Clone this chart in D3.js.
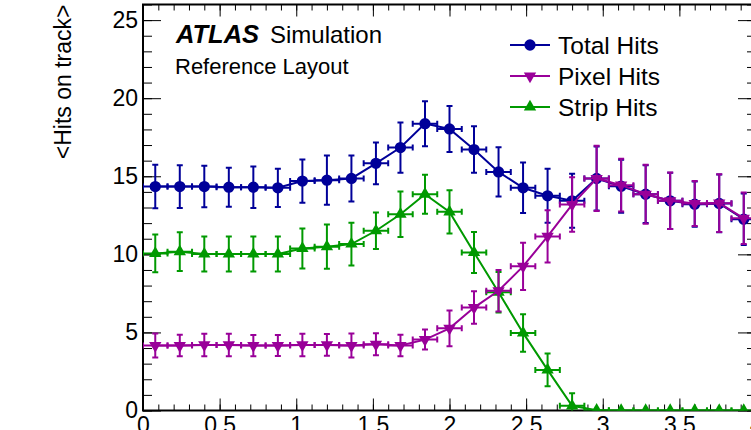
<!DOCTYPE html>
<html lang="en">
<head>
  <meta charset="UTF-8">
  <title>Hits on track</title>
  <script src="https://d3js.org/d3.v7.min.js"></script>
  <style>
    body { margin: 0; background: #fff; }
    text { font-family: "Liberation Sans", Arial, Helvetica, sans-serif; fill: #000; }
  </style>
</head>
<body>
  <div id="root"></div>
  <script>
    // bin centres (bin width 0.16)
    const binCenters = [0.08, 0.24, 0.40, 0.56, 0.72, 0.88, 1.04, 1.20, 1.36, 1.52, 1.68, 1.84, 2.00,
      2.16, 2.32, 2.48, 2.64, 2.80, 2.96, 3.12, 3.28, 3.44, 3.60, 3.76, 3.92]
    const binHalfWidth = 0.08

    const totalHits = [14.34, 14.34, 14.34, 14.30, 14.30, 14.26, 14.69, 14.75, 14.86, 15.83, 16.84, 18.37, 18.03,
      16.71, 15.28, 14.26, 13.75, 13.43, 14.86, 14.36, 13.85, 13.43, 13.21, 13.26, 12.25]
    const totalErr = [1.39, 1.37, 1.33, 1.25, 1.33, 1.22, 1.39, 1.58, 1.47, 1.34, 1.61, 1.44, 1.47,
      1.49, 1.58, 1.62, 1.73, 1.73, 2.05, 1.69, 1.85, 1.80, 1.45, 1.85, 1.65]

    const pixelHits = [4.16, 4.16, 4.20, 4.20, 4.16, 4.16, 4.20, 4.20, 4.16, 4.24, 4.16, 4.54, 5.26,
      6.59, 7.67, 9.23, 11.15, 13.19, 14.86, 14.43, 13.85, 13.43, 13.26, 13.28, 12.31]
    const pixelErr = [0.77, 0.69, 0.72, 0.72, 0.68, 0.67, 0.72, 0.70, 0.77, 0.70, 0.69, 0.64, 1.14,
      1.04, 1.33, 1.51, 1.68, 1.74, 2.09, 1.69, 1.89, 1.81, 1.44, 1.85, 1.65]

    const stripHits = [10.06, 10.17, 10.02, 10.02, 10.02, 10.02, 10.38, 10.49, 10.66, 11.51, 12.57, 13.85, 12.72,
      10.12, 7.57, 4.97, 2.60, 0.30, 0.02, 0, 0, 0, 0, 0, 0]
    const stripErr = [1.21, 1.24, 1.12, 1.12, 1.12, 1.12, 1.28, 1.42, 1.37, 1.17, 1.46, 1.25, 1.39,
      1.31, 1.30, 1.20, 1.05, 0.80, 0, 0, 0, 0, 0, 0, 0]

    const xTickValues = [0, 0.5, 1, 1.5, 2, 2.5, 3, 3.5, 4]
    const xTickLabels = ['0', '0.5', '1', '1.5', '2', '2.5', '3', '3.5', '4']
    const yTickValues = [0, 5, 10, 15, 20, 25]
    const yTickLabels = ['0', '5', '10', '15', '20', '25']

    const series = [
      { name: 'Total Hits', values: totalHits, errors: totalErr, color: '#000099', marker: 'circle' },
      { name: 'Pixel Hits', values: pixelHits, errors: pixelErr, color: '#990099', marker: 'down' },
      { name: 'Strip Hits', values: stripHits, errors: stripErr, color: '#009900', marker: 'up' }
    ]
    // drawing order: pixel ends up on top
    const drawOrder = [0, 2, 1]

    const W = 751, H = 430
    const frame = { left: 143, right: 756, top: 4.5, bottom: 410.5 }

    const x = d3.scaleLinear().domain([0, 4]).range([frame.left, frame.right])
    const y = d3.scaleLinear().domain([0, 26]).range([frame.bottom, frame.top])

    const svg = d3.select('#root')
      .append('svg')
      .attr('width', W)
      .attr('height', H)

    svg.append('defs').append('clipPath').attr('id', 'plotclip')
      .append('rect')
      .attr('x', frame.left).attr('y', frame.top)
      .attr('width', frame.right - frame.left).attr('height', frame.bottom - frame.top)

    // ---- axes (ROOT style: ticks inside, on all four sides)
    const xMinor = d3.range(0, 4.001, 0.1).map(v => +v.toFixed(2))
    const yMinor = d3.range(0, 26.001, 1)

    const axisStyle = g => {
      g.select('.domain').remove()
      g.selectAll('.tick line').attr('stroke', '#000').attr('stroke-width', 1)
    }

    svg.append('g').attr('transform', `translate(0,${frame.bottom})`)
      .call(d3.axisBottom(x).tickValues(xMinor).tickSize(-6).tickFormat(''))
      .call(axisStyle)
    svg.append('g').attr('transform', `translate(0,${frame.bottom})`)
      .call(d3.axisBottom(x).tickValues(xTickValues).tickSize(-12).tickPadding(6)
        .tickFormat((d, i) => xTickLabels[i]))
      .call(axisStyle)
      .call(g => g.selectAll('text').attr('font-size', 23).attr('dy', '0.72em'))

    svg.append('g').attr('transform', `translate(0,${frame.top})`)
      .call(d3.axisTop(x).tickValues(xMinor).tickSize(-6).tickFormat(''))
      .call(axisStyle)
    svg.append('g').attr('transform', `translate(0,${frame.top})`)
      .call(d3.axisTop(x).tickValues(xTickValues).tickSize(-12).tickFormat(''))
      .call(axisStyle)

    svg.append('g').attr('transform', `translate(${frame.left},0)`)
      .call(d3.axisLeft(y).tickValues(yMinor).tickSize(-9).tickFormat(''))
      .call(axisStyle)
    svg.append('g').attr('transform', `translate(${frame.left},0)`)
      .call(d3.axisLeft(y).tickValues(yTickValues).tickSize(-18).tickPadding(5)
        .tickFormat((d, i) => yTickLabels[i]))
      .call(axisStyle)
      .call(g => g.selectAll('text').attr('font-size', 23).attr('x', -5))

    svg.append('g').attr('transform', `translate(${frame.right},0)`)
      .call(d3.axisRight(y).tickValues(yMinor).tickSize(-9).tickFormat(''))
      .call(axisStyle)
    svg.append('g').attr('transform', `translate(${frame.right},0)`)
      .call(d3.axisRight(y).tickValues(yTickValues).tickSize(-18).tickFormat(''))
      .call(axisStyle)

    svg.append('rect')
      .attr('x', frame.left).attr('y', frame.top)
      .attr('width', frame.right - frame.left).attr('height', frame.bottom - frame.top)
      .attr('fill', 'none')
      .attr('stroke', '#000')
      .attr('stroke-width', 2)

    // y title
    svg.append('text')
      .attr('transform', `translate(71,${frame.top}) rotate(-90)`)
      .attr('text-anchor', 'end')
      .attr('font-size', 23)
      .text('<Hits on track>')

    // ---- data
    const markerPath = m => {
      if (m === 'circle') return d3.symbol(d3.symbolCircle, 100)()
      return d3.symbol(d3.symbolTriangle, 66)()
    }
    const markerRot = m => (m === 'down' ? 'rotate(180)' : '')

    const plot = svg.append('g').attr('clip-path', 'url(#plotclip)')
    const cap = 3

    drawOrder.forEach(si => {
      const s = series[si]
      const pts = binCenters.map((c, i) => ({ c, v: s.values[i], e: s.errors[i] }))
      const g = plot.append('g')
        .attr('stroke', s.color)
        .attr('fill', s.color)

      g.append('path')
        .datum(pts)
        .attr('fill', 'none')
        .attr('stroke-width', 2)
        .attr('d', d3.line().x(d => x(d.c)).y(d => y(d.v)))

      const eb = g.selectAll('g.err').data(pts).join('g').attr('class', 'err')
        .attr('stroke-width', 2)
        .attr('fill', 'none')
      // horizontal (bin width) bars
      eb.append('path')
        .attr('d', d => {
          const x0 = x(d.c - binHalfWidth), x1 = x(d.c + binHalfWidth), yy = y(d.v)
          return `M${x0},${yy}H${x1}M${x0},${yy - cap}V${yy + cap}M${x1},${yy - cap}V${yy + cap}`
        })
      // vertical error bars
      eb.filter(d => d.e > 0).append('path')
        .attr('d', d => {
          const xx = x(d.c), y0 = y(d.v - d.e), y1 = y(d.v + d.e)
          return `M${xx},${y0}V${y1}M${xx - cap},${y0}H${xx + cap}M${xx - cap},${y1}H${xx + cap}`
        })

      g.selectAll('path.mk').data(pts).join('path')
        .attr('class', 'mk')
        .attr('stroke', 'none')
        .attr('transform', d => `translate(${x(d.c)},${y(d.v)}) ${markerRot(s.marker)}`)
        .attr('d', markerPath(s.marker))
    })

    // ---- labels
    svg.append('text').attr('x', 176).attr('y', 43).attr('font-size', 25.5)
      .attr('font-weight', 'bold').attr('font-style', 'italic').text('ATLAS')
    svg.append('text').attr('x', 270).attr('y', 43).attr('font-size', 24).text('Simulation')

    svg.append('text').attr('x', 175).attr('y', 74).attr('font-size', 22).text('Reference Layout')

    // ---- legend
    const legendRows = [45, 76, 107]
    const leg = svg.append('g')
    series.forEach((s, i) => {
      const yy = legendRows[i]
      leg.append('line')
        .attr('x1', 510).attr('x2', 550).attr('y1', yy).attr('y2', yy)
        .attr('stroke', s.color).attr('stroke-width', 2)
      leg.append('path')
        .attr('transform', `translate(530,${yy}) ${markerRot(s.marker)}`)
        .attr('d', markerPath(s.marker))
        .attr('fill', s.color)
      leg.append('text')
        .attr('x', 558).attr('y', yy + 8.5)
        .attr('font-size', 24.5)
        .text(s.name)
    })
  </script>
</body>
</html>
